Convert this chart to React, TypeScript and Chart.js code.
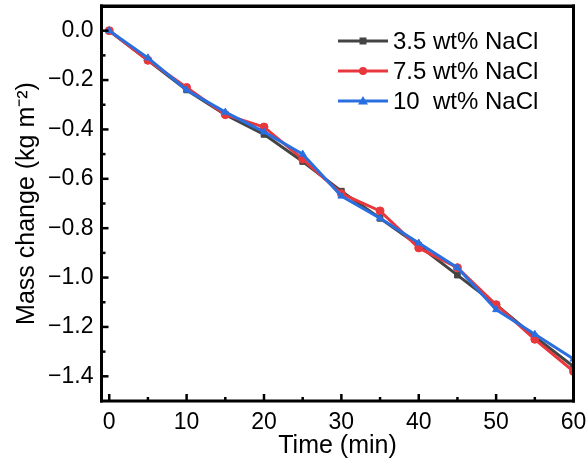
import React, { useEffect, useRef } from "react";
import { Chart, registerables } from "chart.js";

Chart.register(...registerables);

const times = [0, 5, 10, 15, 20, 25, 30, 35, 40, 45, 50, 55, 60];
const nacl35 = [0, -0.12, -0.24, -0.34, -0.42, -0.53, -0.65, -0.76, -0.87, -0.99, -1.11, -1.24, -1.36];
const nacl75 = [0, -0.12, -0.23, -0.34, -0.39, -0.52, -0.66, -0.73, -0.88, -0.96, -1.11, -1.25, -1.38];
const nacl10 = [0, -0.11, -0.24, -0.33, -0.41, -0.50, -0.67, -0.76, -0.86, -0.96, -1.13, -1.23, -1.33];

const seriesNames = ["3.5 wt% NaCl", "7.5 wt% NaCl", "10  wt% NaCl"];
const seriesColors = ["#444444", "#e8383d", "#2a6fe0"];
const seriesMarkers = ["rect", "circle", "triangle"];

const xMajorTicks = [0, 10, 20, 30, 40, 50, 60];
const xMinorTicks = [5, 15, 25, 35, 45, 55];
const yMajorTicks = [0, -0.2, -0.4, -0.6, -0.8, -1.0, -1.2, -1.4];
const yMinorTicks = [-0.1, -0.3, -0.5, -0.7, -0.9, -1.1, -1.3];

const FONT = "'Liberation Sans', Arial, sans-serif";

const framePlugin = {
  id: "frameTicks",
  afterDraw(chart: any) {
    const { ctx } = chart;
    const xs = chart.scales.x;
    const ys = chart.scales.y;
    const L = xs.left;
    const R = xs.right;
    const T = ys.top;
    const B = ys.bottom;
    ctx.save();
    ctx.globalCompositeOperation = "source-over";
    ctx.globalAlpha = 1;
    ctx.fillStyle = "#000000";
    xMajorTicks.forEach((v) => {
      const px = xs.getPixelForValue(v);
      ctx.fillRect(px - 1.25, B - 7, 2.5, 7);
    });
    xMinorTicks.forEach((v) => {
      const px = xs.getPixelForValue(v);
      ctx.fillRect(px - 1.25, B - 4, 2.5, 4);
    });
    yMajorTicks.forEach((v) => {
      const py = ys.getPixelForValue(v);
      ctx.fillRect(L, py - 1.25, 7, 2.5);
    });
    yMinorTicks.forEach((v) => {
      const py = ys.getPixelForValue(v);
      ctx.fillRect(L, py - 1.25, 4, 2.5);
    });
    const w = 3;
    ctx.fillRect(L - w / 2, T - w / 2, R - L + w, w);
    ctx.fillRect(L - w / 2, B - w / 2, R - L + w, w);
    ctx.fillRect(L - w / 2, T - w / 2, w, B - T + w);
    ctx.fillRect(R - w / 2, T - w / 2, w, B - T + w);
    ctx.restore();
  },
};

const legendPlugin = {
  id: "insideLegend",
  afterDraw(chart: any) {
    const { ctx } = chart;
    ctx.save();
    const x0 = 338;
    const x1 = 388;
    const rowY = [41, 71, 101];
    seriesNames.forEach((name, i) => {
      const y = rowY[i];
      ctx.strokeStyle = seriesColors[i];
      ctx.lineWidth = 3;
      ctx.beginPath();
      ctx.moveTo(x0, y);
      ctx.lineTo(x1, y);
      ctx.stroke();
      ctx.fillStyle = seriesColors[i];
      const mx = (x0 + x1) / 2;
      if (seriesMarkers[i] === "rect") {
        ctx.fillRect(mx - 3.5, y - 3.5, 7, 7);
      } else if (seriesMarkers[i] === "circle") {
        ctx.beginPath();
        ctx.arc(mx, y, 4, 0, Math.PI * 2);
        ctx.fill();
      } else {
        ctx.beginPath();
        ctx.moveTo(mx, y - 5);
        ctx.lineTo(mx + 5, y + 3.5);
        ctx.lineTo(mx - 5, y + 3.5);
        ctx.closePath();
        ctx.fill();
      }
      ctx.fillStyle = "#000";
      ctx.font = `24px ${FONT}`;
      ctx.textBaseline = "middle";
      ctx.textAlign = "left";
      ctx.fillText(name, 393, y + 1);
    });
    ctx.restore();
  },
};

export default function App() {
  const ref = useRef<HTMLCanvasElement | null>(null);

  useEffect(() => {
    if (!ref.current) return;
    const mk = (label: string, data: number[], i: number, order: number) => ({
      label,
      data: times.map((t, k) => ({ x: t, y: data[k] })),
      borderColor: seriesColors[i],
      backgroundColor: seriesColors[i],
      borderWidth: 3,
      pointStyle: seriesMarkers[i],
      pointRadius: 4,
      pointBorderWidth: 1,
      tension: 0,
      order,
      xAxisID: "x",
      yAxisID: "y",
    });
    const chart = new Chart(ref.current, {
      type: "line",
      data: {
        datasets: [
          mk(seriesNames[0], nacl35, 0, 2),
          mk(seriesNames[1], nacl75, 1, 1),
          mk(seriesNames[2], nacl10, 2, 0),
        ],
      },
      options: {
        animation: false,
        responsive: false,
        maintainAspectRatio: false,
        layout: { padding: { top: 6, right: 14.5, left: 0, bottom: 0 } },
        plugins: { legend: { display: false }, tooltip: { enabled: false } },
        scales: {
          x: {
            type: "linear",
            min: -1,
            max: 60,
            grid: { display: false, drawTicks: false },
            border: { display: false },
            afterBuildTicks: (s: any) => {
              s.ticks = xMajorTicks.map((v) => ({ value: v }));
            },
            afterFit: (s: any) => {
              s.height = 66;
              s.paddingLeft = 0;
              s.paddingRight = 0;
            },
            ticks: {
              color: "#000",
              font: { family: FONT, size: 23 },
              padding: 8,
              maxRotation: 0,
              autoSkip: false,
            },
            title: {
              display: true,
              text: "Time (min)",
              color: "#000",
              font: { family: FONT, size: 25 },
              padding: { top: 0, bottom: 6 },
            },
          },
          xTop: {
            type: "linear",
            position: "top",
            min: -1,
            max: 60,
            grid: { display: false, drawTicks: false },
            border: { display: true, width: 3, color: "#000" },
            ticks: { display: false },
            afterFit: (s: any) => {
              s.height = 0;
              s.paddingLeft = 0;
              s.paddingRight = 0;
            },
          },
          y: {
            type: "linear",
            min: -1.5,
            max: 0.1,
            grid: { display: false, drawTicks: false },
            border: { display: false },
            afterBuildTicks: (s: any) => {
              s.ticks = yMajorTicks.map((v) => ({ value: v }));
            },
            afterFit: (s: any) => {
              s.width = 101.5;
              s.paddingTop = 0;
              s.paddingBottom = 0;
            },
            ticks: {
              color: "#000",
              font: { family: FONT, size: 23 },
              padding: 8,
              autoSkip: false,
              callback: (v: any) => Number(v).toFixed(1).replace("-", "\u2212"),
            },
            title: {
              display: true,
              text: "Mass change (kg m\u207B\u00B2)",
              color: "#000",
              font: { family: FONT, size: 25 },
              padding: { top: 12, bottom: 0 },
            },
          },
          yRight: {
            type: "linear",
            position: "right",
            min: -1.5,
            max: 0.1,
            grid: { display: false, drawTicks: false },
            border: { display: true, width: 3, color: "#000" },
            ticks: { display: false },
            afterFit: (s: any) => {
              s.width = 0;
              s.paddingTop = 0;
              s.paddingBottom = 0;
            },
          },
        },
      },
      plugins: [framePlugin, legendPlugin],
    } as any);
    return () => chart.destroy();
  }, []);

  return (
    <div style={{ position: "fixed", left: 0, top: 0, width: 588, height: 467, background: "#fff" }}>
      <canvas ref={ref} width={588} height={467} style={{ display: "block" }} />
    </div>
  );
}
